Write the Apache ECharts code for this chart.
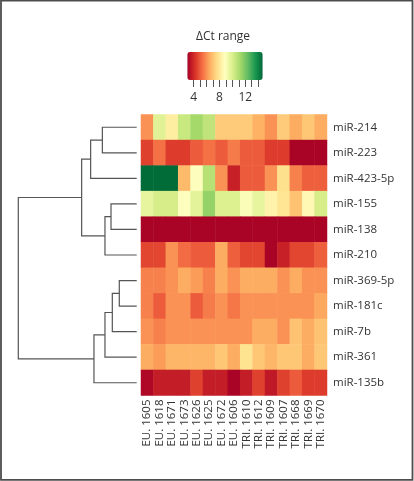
<!DOCTYPE html>
<html><head><meta charset="utf-8">
<script src="https://cdn.jsdelivr.net/npm/echarts@6/dist/echarts.min.js"></script>
<style>html,body{margin:0;padding:0;background:#fff}#c{width:414px;height:481px}</style>
</head><body><div id="c"></div><script>
// ---- data ----
const rows = ['miR-214','miR-223','miR-423-5p','miR-155','miR-138','miR-210','miR-369-5p','miR-181c','miR-7b','miR-361','miR-135b'];
const cols = ['EU. 1605','EU. 1618','EU. 1671','EU. 1673','EU. 1626','EU. 1625','EU. 1672','EU. 1606','TRI. 1610','TRI. 1612','TRI. 1609','TRI. 1607','TRI. 1668','TRI. 1669','TRI. 1670'];
const miR214  = [6.0, 9.8, 8.2, 10.4, 11.2, 10.6, 7.2, 7.2, 7.2, 6.6, 6.0, 7.2, 6.5, 7.1, 6.5];
const miR223  = [4.5, 5.4, 4.4, 4.4, 5.0, 5.4, 5.0, 5.6, 5.0, 5.0, 4.4, 4.4, 3.1, 3.1, 3.1];
const miR423  = [14.6, 14.6, 14.6, 6.8, 8.9, 10.8, 6.0, 3.8, 5.0, 5.0, 6.0, 7.7, 5.7, 5.1, 5.1];
const miR155  = [9.6, 10.1, 10.1, 8.9, 9.7, 11.5, 9.9, 9.9, 9.0, 9.6, 8.4, 7.9, 7.0, 8.6, 10.1];
const miR138  = [3.1, 3.1, 3.1, 3.1, 3.1, 3.1, 3.1, 3.1, 3.1, 3.1, 3.1, 3.1, 3.1, 3.1, 3.1];
const miR210  = [4.6, 4.6, 6.0, 5.3, 5.0, 5.0, 6.5, 5.1, 4.6, 4.6, 3.1, 3.8, 4.6, 4.6, 5.1];
const miR369  = [5.7, 5.7, 6.0, 6.5, 6.2, 5.7, 6.5, 6.0, 6.5, 6.5, 6.5, 6.0, 6.5, 6.0, 6.0];
const miR181c = [5.7, 5.0, 6.0, 6.0, 5.0, 5.6, 6.0, 5.5, 6.0, 6.0, 6.0, 6.0, 6.0, 6.0, 6.4];
const miR7b   = [6.0, 5.7, 6.0, 6.0, 6.0, 6.0, 6.0, 6.0, 6.0, 6.5, 6.5, 6.0, 7.0, 6.5, 7.0];
const miR361  = [6.5, 6.2, 6.7, 6.7, 6.7, 6.7, 7.1, 6.5, 7.8, 7.1, 6.7, 7.1, 7.1, 6.5, 7.1];
const miR135b = [3.2, 3.7, 3.7, 3.7, 4.5, 3.7, 3.7, 3.1, 3.7, 4.5, 3.6, 4.5, 5.0, 4.4, 4.4];
const rowValues = [miR214, miR223, miR423, miR155, miR138, miR210, miR369, miR181c, miR7b, miR361, miR135b];
// dendrogram merges: [childA, childB, height]; leaves are 0..10 (row order), new nodes numbered from 11
const merges = [[0,1,2.9],[3,4,2.17],[6,7,1.47],[13,8,2.06],[12,5,2.68],[14,9,2.68],[11,2,3.89],[16,10,3.61],[17,15,4.65],[19,18,10]];
const scaleMin = 3, scaleMax = 14.7;
const tickValues = [4,5,6,7,8,9,10,11,12,13,14];
const tickLabels = [4, 8, 12];
const palette = ['#a50026','#d73027','#f46d43','#fdae61','#fee08b','#ffffbf','#d9ef8b','#a6d96a','#66bd63','#1a9850','#006837'];

// ---- build ----
const heat = [];
rowValues.forEach((r, i) => r.forEach((v, j) => heat.push([j, i, v])));
const nodeY = rows.map((_, i) => i), nodeH = rows.map(() => 0);
const links = [];
merges.forEach(([a, b, h]) => {
  links.push([nodeH[a], nodeY[a], h, nodeH[b], nodeY[b]]);
  nodeY.push((nodeY[a] + nodeY[b]) / 2); nodeH.push(h);
});
const FONT = 'Open Sans';
const chart = echarts.init(document.getElementById('c'), null, {renderer: 'canvas'});
chart.setOption({
  animation: false,
  backgroundColor: '#fff',
  grid: [
    {left: 141, top: 114.5, width: 186, height: 281},
    {left: 18.3, top: 114.5, width: 118.4, height: 281},
    {left: 187.3, top: 52, width: 75.4, height: 28}
  ],
  xAxis: [
    {gridIndex: 0, type: 'category', data: cols, position: 'bottom',
     axisLine: {show: false}, axisTick: {show: false}, splitLine: {show: false},
     axisLabel: {rotate: 90, margin: 4, fontSize: 11.5, color: '#333', fontFamily: FONT, interval: 0}},
    {gridIndex: 1, type: 'value', min: 0, max: 10, inverse: true, show: false},
    {gridIndex: 2, type: 'value', min: scaleMin, max: scaleMax, position: 'bottom',
     axisLine: {show: true, lineStyle: {color: 'rgba(0,0,0,0)'}}, splitLine: {show: false},
     axisTick: {show: true, length: 7, customValues: tickValues, lineStyle: {color: '#555', width: 1}},
     axisLabel: {margin: 12, fontSize: 12, color: '#333', fontFamily: FONT, customValues: tickLabels}}
  ],
  yAxis: [
    {gridIndex: 0, type: 'category', data: rows, inverse: true, position: 'right',
     axisLine: {show: false}, axisTick: {show: false}, splitLine: {show: false},
     axisLabel: {margin: 6, fontSize: 11.5, color: '#333', fontFamily: FONT, interval: 0}},
    {gridIndex: 1, type: 'value', min: -0.5, max: 10.5, inverse: true, show: false},
    {gridIndex: 2, type: 'value', min: 0, max: 1, show: false}
  ],
  visualMap: {
    type: 'continuous', min: scaleMin, max: scaleMax, seriesIndex: 0,
    orient: 'horizontal', left: 187.3, top: 52, itemWidth: 28, itemHeight: 75.4,
    calculable: false, text: null, padding: 0, hoverLink: false,
    inRange: {color: palette}
  },
  graphic: [
    {type: 'text', left: 196, top: 31, style: {text: 'ΔCt range', fontSize: 12, fill: '#333', fontFamily: FONT}},
    {type: 'rect', shape: {x: 1, y: 0.5, width: 411.5, height: 479.3}, style: {fill: null, stroke: '#4d4d4d', lineWidth: 1.8}, silent: true}
  ],
  series: [
    {type: 'heatmap', xAxisIndex: 0, yAxisIndex: 0, data: heat, itemStyle: {borderWidth: 0}, emphasis: {disabled: true}},
    {type: 'custom', xAxisIndex: 1, yAxisIndex: 1, data: links, silent: true,
     renderItem: (params, api) => {
       const p1 = api.coord([api.value(0), api.value(1)]);
       const p2 = api.coord([api.value(2), api.value(1)]);
       const p3 = api.coord([api.value(2), api.value(4)]);
       const p4 = api.coord([api.value(3), api.value(4)]);
       return {type: 'polyline', shape: {points: [p1, p2, p3, p4]}, style: {fill: null, stroke: '#555', lineWidth: 1.2}};
     }}
  ]
});
</script></body></html>
